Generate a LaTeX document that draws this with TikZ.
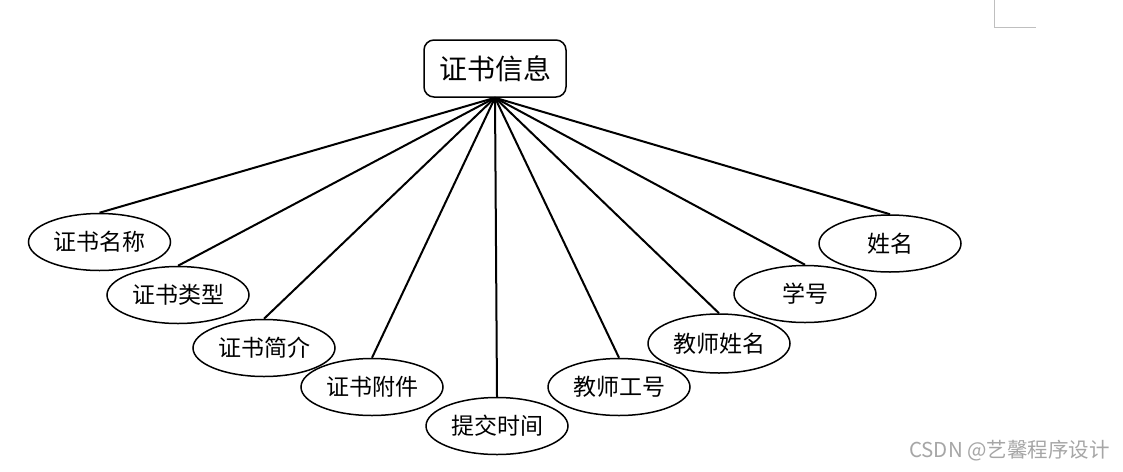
\documentclass[tikz,border=0pt]{standalone}
\usepackage{fontspec}
\newfontfamily\cjk{Noto Sans CJK SC}
\usetikzlibrary{shapes.geometric}
\begin{document}
\begin{tikzpicture}[x=1pt,y=-1pt,
  topbox/.style={draw, line width=1.5pt, rounded corners=10pt, minimum width=142pt, minimum height=57pt, inner sep=0pt, font=\cjk\fontsize{28}{32}\selectfont},
  attr/.style={ellipse, draw, line width=1.5pt, minimum width=142pt, minimum height=57pt, inner sep=0pt, font=\cjk\fontsize{23}{27}\selectfont},
  link/.style={line width=2pt}]
\useasboundingbox (0,0) rectangle (1123,471);
\fill[white] (0,0) rectangle (1123,471);
% corner mark
\coordinate (c1) at (994,0);
\coordinate (c2) at (994,27);
\coordinate (c3) at (1036,27);
\draw[black!25, line width=0.8pt] (c1) -- (c2) -- (c3);
\node[topbox] (top) at (495,68.5) {证书信息};
\node[attr] (a1) at (99.5,242) {证书名称};
\node[attr] (a2) at (178,295) {证书类型};
\node[attr] (a3) at (264,348) {证书简介};
\node[attr] (a4) at (372,387) {证书附件};
\node[attr] (a5) at (497,426) {提交时间};
\node[attr] (a6) at (619,387) {教师工号};
\node[attr, minimum height=59pt] (a7) at (719,343.5) {教师姓名};
\node[attr] (a8) at (805,294) {学号};
\node[attr] (a9) at (890,243.5) {姓名};
\foreach \n in {a1,a2,a3,a4,a5,a6,a7,a8,a9}
  \draw[link] (top.south) -- (\n.north);
\node[anchor=east, text=black!35, inner sep=0pt, font=\cjk\fontsize{20.5}{24}\selectfont] (wm) at (1110,451) {CSDN @艺馨程序设计};
\end{tikzpicture}
\end{document}
